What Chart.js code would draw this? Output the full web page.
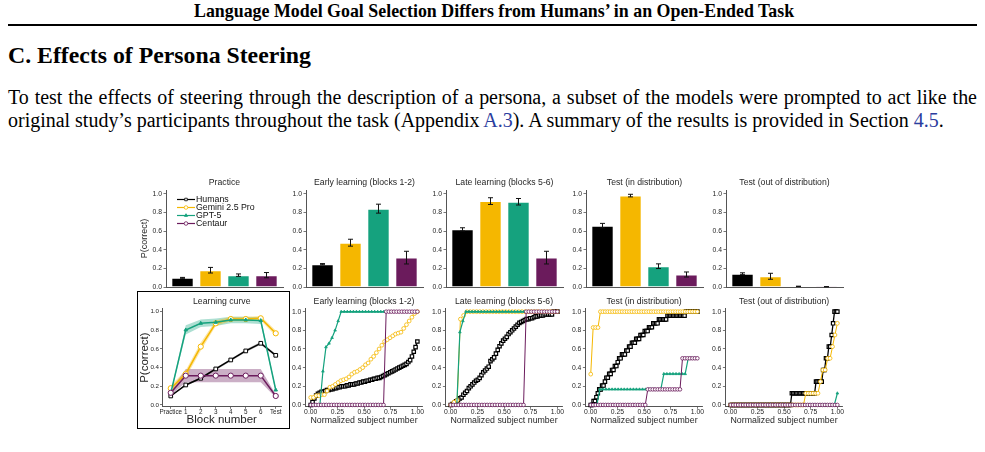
<!DOCTYPE html>
<html>
<head>
<meta charset="utf-8">
<script src="https://cdn.jsdelivr.net/npm/chart.js@4.4.1/dist/chart.umd.min.js"></script>
<style>
  html, body { margin: 0; padding: 0; background: #fff; }
  body { width: 985px; height: 452px; overflow: hidden; position: relative; font-family: "Liberation Serif", "Times New Roman", serif; color: #000; }
  .txt { position: absolute; white-space: nowrap; line-height: 1; }
  .lnk { color: #2b3d9e; }
  canvas { position: absolute; }
  #rule { position: absolute; left: 8px; top: 24px; width: 969px; height: 2px; background: #000; }
  #lcBox { position: absolute; left: 137px; top: 291px; width: 153px; height: 138px; border: 1.4px solid #000; box-sizing: border-box; }
</style>
</head>
<body>
<div class="txt" id="hdr" style="font-weight:bold">Language Model Goal Selection Differs from Humans’ in an Open-Ended Task</div>
<div id="rule"></div>
<div class="txt" id="sec" style="font-weight:bold">C. Effects of Persona Steering</div>
<div class="txt" id="par1">To test the effects of steering through the description of a persona, a subset of the models were prompted to act like the</div>
<div class="txt" id="par2">original study’s participants throughout the task (Appendix <span class="lnk">A.3</span>). A summary of the results is provided in Section <span class="lnk">4.5</span>.</div>
<div id="lcBox"></div>
<script>
// ---- data ----
const groups = ['Humans', 'Gemini 2.5 Pro', 'GPT-5', 'Centaur'];
const colors = ['#000000', '#F5B700', '#15A27E', '#6B1B5C'];
const barTitles = ['Practice', 'Early learning (blocks 1-2)', 'Late learning (blocks 5-6)', 'Test (in distribution)', 'Test (out of distribution)'];
const yTicks = [0, 0.2, 0.4, 0.6, 0.8, 1.0];
const xTicks = [0, 0.25, 0.5, 0.75, 1.0];

const practiceMean = [0.098, 0.180, 0.127, 0.127];
const practiceErr  = [0.005, 0.030, 0.013, 0.028];
const earlyMean = [0.245, 0.475, 0.840, 0.315];
const earlyErr  = [0.006, 0.037, 0.048, 0.068];
const lateMean = [0.618, 0.921, 0.914, 0.315];
const lateErr  = [0.017, 0.036, 0.035, 0.068];
const testInMean = [0.658, 0.980, 0.223, 0.134];
const testInErr  = [0.024, 0.014, 0.025, 0.027];
const testOutMean = [0.142, 0.115, 0.007, 0.003];
const testOutErr  = [0.010, 0.032, 0.002, 0.001];

const blockLabels = ['Practice', '1', '2', '3', '4', '5', '6', 'Test'];
const humansCurve = [0.096, 0.214, 0.286, 0.386, 0.482, 0.579, 0.661, 0.532];
const humansCurveErr = [0.008, 0.010, 0.012, 0.013, 0.014, 0.015, 0.016, 0.015];
const geminiCurve = [0.179, 0.332, 0.625, 0.875, 0.921, 0.921, 0.929, 0.768];
const geminiCurveErr = [0.030, 0.040, 0.045, 0.030, 0.025, 0.025, 0.025, 0.030];
const gptCurve = [0.125, 0.804, 0.875, 0.886, 0.911, 0.911, 0.904, 0.160];
const gptCurveErr = [0.015, 0.050, 0.040, 0.040, 0.035, 0.035, 0.035, 0.020];
const centaurCurve = [0.130, 0.314, 0.314, 0.314, 0.314, 0.314, 0.314, 0.096];
const centaurCurveErr = [0.030, 0.070, 0.070, 0.070, 0.070, 0.070, 0.070, 0.015];

// sorted per-subject accuracy (plain lists, or [value, count] runs)
const humansEarly = [0.00, 0.03, 0.07, 0.10, 0.12, 0.13, 0.14, 0.14, 0.15, 0.16, 0.16, 0.17, 0.17, 0.18, 0.18,
  0.19, 0.19, 0.20, 0.20, 0.20, 0.21, 0.21, 0.22, 0.22, 0.22, 0.23, 0.23, 0.24, 0.24, 0.25, 0.25, 0.26, 0.26,
  0.27, 0.27, 0.28, 0.28, 0.29, 0.29, 0.30, 0.31, 0.32, 0.33, 0.34, 0.35, 0.36, 0.37, 0.38, 0.39, 0.40, 0.41,
  0.42, 0.43, 0.44, 0.46, 0.48, 0.52, 0.57, 0.62, 0.68];
const geminiEarly = [0.08, 0.08, 0.10, 0.10, 0.11, 0.11, 0.15, 0.19, 0.20, 0.22, 0.24, 0.26, 0.27, 0.28, 0.30,
  0.33, 0.35, 0.36, 0.38, 0.40, 0.43, 0.45, 0.49, 0.52, 0.56, 0.60, 0.64, 0.68, 0.70, 0.72, 0.74, 0.76, 0.77,
  0.78, 0.82, 0.86, 0.90, 0.94, 0.98, 1.00];
const gptEarly = [[0, 4], [0.36, 1], [0.62, 1], [0.66, 1], [0.72, 1], [0.80, 1], [0.90, 1], [1, 26]];
const centaurEarly = [[0, 29], [1, 13]];

const humansLate = [0.00, 0.01, 0.02, 0.04, 0.05, 0.07, 0.08, 0.11, 0.13, 0.15, 0.18, 0.20, 0.22, 0.24, 0.26,
  0.27, 0.29, 0.32, 0.35, 0.37, 0.39, 0.41, 0.47, 0.49, 0.51, 0.55, 0.59, 0.63, 0.66, 0.69, 0.71, 0.73, 0.76,
  0.78, 0.80, 0.82, 0.84, 0.86, 0.88, 0.89, 0.90, 0.91, 0.92, 0.92, 0.93, 0.93, 0.94, 0.95, 0.95, 0.96, 0.96,
  0.96, 0.97, 0.97, 0.97, 0.97, 0.97, 1.00, 1.00, 1.00];
const geminiLate = [[0, 1], [0.03, 1], [0.05, 1], [0.92, 1], [0.96, 1], [1, 29]];
const gptLate = [[0, 3], [0.78, 1], [0.90, 1], [1, 31]];
const centaurLate = [[0, 29], [1, 13]];

const humansTestIn = [[0, 2], [0.042, 2], [0.083, 1], [0.125, 1], [0.167, 2], [0.208, 2], [0.25, 1], [0.292, 2],
  [0.333, 2], [0.375, 2], [0.417, 2], [0.458, 1], [0.5, 2], [0.542, 3], [0.583, 2], [0.625, 2], [0.667, 3],
  [0.708, 3], [0.75, 3], [0.792, 3], [0.833, 3], [0.875, 4], [0.917, 6], [0.958, 13], [1, 9]];
const geminiTestIn = [[0.33, 1], [0.83, 3], [1, 41]];
const gptTestIn = [[0, 3], [0.167, 21], [0.333, 8], [0.5, 4]];
const centaurTestIn = [[0, 23], [0.167, 14], [0.5, 7]];

const humansTestOut = [[0, 43], [0.125, 17], [0.25, 5], [0.375, 2], [0.5, 2], [0.625, 2], [0.75, 1], [0.875, 1], [1, 3]];
const geminiTestOut = [[0, 31], [0.125, 6], [0.25, 1], [0.375, 2], [0.5, 2], [0.625, 1], [0.75, 1], [0.875, 1]];
const gptTestOut = [[0, 35], [0.125, 1]];
const centaurTestOut = [[0, 44]];

// ---- page text ----
function fitWidth(el, w) {
  el.style.fontSize = '20px';
  const r = el.getBoundingClientRect().width;
  const fs = 20 * w / r;
  el.style.fontSize = fs + 'px';
  return fs;
}
function place(el, left, cy, fs) {
  el.style.left = left + 'px';
  el.style.top = (cy - 0.55 * fs) + 'px';
}
const hdr = document.getElementById('hdr');
place(hdr, 194, 12.5, fitWidth(hdr, 601));
const sec = document.getElementById('sec');
place(sec, 8, 57, fitWidth(sec, 303));
const par2 = document.getElementById('par2');
const pfs = fitWidth(par2, 936);
place(par2, 8, 122, pfs);
const par1 = document.getElementById('par1');
par1.style.fontSize = pfs + 'px';
const nSp = par1.textContent.split(' ').length - 1;
par1.style.wordSpacing = ((969 - par1.getBoundingClientRect().width) / nSp) + 'px';
place(par1, 8, 99, pfs);

// ---- charts ----
const FONT = "'Liberation Sans', Arial, sans-serif";
const SPINE = '#555555';
const TXT = '#262626';
const pointStyles = ['rect', 'circle', 'triangle', 'circle'];
const pointFills = ['#ffffff', '#ffffff', '#15A27E', '#ffffff'];
const bandColors = ['rgba(0,0,0,0.25)', 'rgba(245,183,0,0.35)', 'rgba(21,162,126,0.35)', 'rgba(107,27,92,0.35)'];
Chart.defaults.font.family = FONT;
Chart.defaults.color = TXT;

function expand(s) {
  if (!Array.isArray(s[0])) return s;
  const out = [];
  s.forEach(([v, n]) => { for (let i = 0; i < n; i++) out.push(v); });
  return out;
}

function addCanvas(left, top, w, h) {
  const c = document.createElement('canvas');
  c.width = w; c.height = h;
  c.style.left = left + 'px'; c.style.top = top + 'px';
  c.style.width = w + 'px'; c.style.height = h + 'px';
  document.body.appendChild(c);
  return c;
}

function tickFont(size) { return { family: FONT, size: size || 6.5, lineHeight: '6px' }; }

function titleOpt(text, pt, pb) {
  return { display: true, text, fullSize: false, color: TXT,
    font: { family: FONT, size: 8.7, weight: 'normal', lineHeight: '10px' },
    padding: { top: pt, bottom: pb } };
}

function yAxis(padL, min, max, fsz) {
  return {
    type: 'linear', min, max,
    afterBuildTicks: sc => { sc.ticks = yTicks.map(v => ({ value: v })); },
    afterFit: sc => { sc.width = padL; sc.paddingTop = 0; sc.paddingBottom = 0; },
    ticks: { font: tickFont(fsz), color: TXT, padding: 1.5, callback: v => v.toFixed(1) },
    grid: { display: true, drawOnChartArea: false, drawTicks: true, tickLength: 2.5, color: SPINE, lineWidth: 0.8 },
    border: { display: true, color: SPINE, width: 1 }
  };
}

function baseOpts(padR) {
  return { responsive: false, animation: false, events: [],
    layout: { padding: { left: 0, top: 0, right: padR, bottom: 0 } } };
}

function drawMarker(ctx, style, x, y, r, stroke, fill) {
  ctx.beginPath();
  if (style === 'rect') {
    const s = r / Math.SQRT2;
    ctx.rect(x - s, y - s, 2 * s, 2 * s);
  } else if (style === 'triangle') {
    ctx.moveTo(x, y - r); ctx.lineTo(x + r * 0.87, y + r * 0.5); ctx.lineTo(x - r * 0.87, y + r * 0.5); ctx.closePath();
  } else {
    ctx.arc(x, y, r, 0, Math.PI * 2);
  }
  ctx.fillStyle = fill; ctx.fill();
  ctx.lineWidth = 0.8; ctx.strokeStyle = stroke; ctx.stroke();
}

function errorBars(mean, err) {
  return { id: 'errorBars', afterDatasetsDraw(chart) {
    const { ctx, scales: { x, y } } = chart;
    ctx.save();
    ctx.strokeStyle = '#111'; ctx.lineWidth = 1;
    mean.forEach((m, i) => {
      const px = x.getPixelForValue(i);
      const lo = y.getPixelForValue(m - err[i]), hi = y.getPixelForValue(m + err[i]);
      ctx.beginPath();
      ctx.moveTo(px, lo); ctx.lineTo(px, hi);
      ctx.moveTo(px - 2.5, lo); ctx.lineTo(px + 2.5, lo);
      ctx.moveTo(px - 2.5, hi); ctx.lineTo(px + 2.5, hi);
      ctx.stroke();
    });
    ctx.restore();
  } };
}

function practiceLegend() {
  return { id: 'practiceLegend', afterDraw(chart) {
    const { ctx, chartArea: a } = chart;
    ctx.save();
    groups.forEach((g, i) => {
      const y = a.top + 9.5 + 8 * i;
      ctx.strokeStyle = colors[i]; ctx.lineWidth = 1.2;
      ctx.beginPath(); ctx.moveTo(a.left + 11, y); ctx.lineTo(a.left + 29, y); ctx.stroke();
      drawMarker(ctx, pointStyles[i], a.left + 20, y, 1.8, colors[i], pointFills[i]);
      ctx.fillStyle = '#111'; ctx.font = '8.8px ' + FONT; ctx.textBaseline = 'middle';
      ctx.fillText(g, a.left + 30, y);
    });
    ctx.restore();
  } };
}

function barPanel(k, mean, err) {
  const L = 166 + 140 * k, T = 190, W = 117, H = 97;
  const padL = k === 0 ? 30 : 28, padT = 18, padR = 6, padB = 4;
  const cv = addCanvas(L - padL, T - padT, W + padL + padR, H + padT + padB);
  const yS = yAxis(padL, 0, 1.04, 6.8);
  if (k === 0) {
    yS.title = { display: true, text: 'P(correct)', color: TXT,
      font: { family: FONT, size: 9, lineHeight: '10px' }, padding: { top: 4, bottom: 0 } };
  }
  const plugins = [errorBars(mean, err)];
  if (k === 0) plugins.push(practiceLegend());
  new Chart(cv, {
    type: 'bar',
    data: { datasets: [{
      data: mean.map((m, i) => ({ x: i, y: m })),
      backgroundColor: colors, borderColor: 'rgba(255,255,255,0.45)', borderWidth: 1,
      categoryPercentage: 1, barPercentage: 0.8
    }] },
    options: Object.assign(baseOpts(padR), {
      plugins: { legend: { display: false }, tooltip: { enabled: false }, title: titleOpt(barTitles[k], 6, 2) },
      scales: {
        x: { type: 'linear', min: -0.59, max: 3.59, offset: false,
          afterBuildTicks: sc => { sc.ticks = [0, 1, 2, 3].map(v => ({ value: v })); },
          afterFit: sc => { sc.height = padB; sc.paddingLeft = 0; sc.paddingRight = 0; },
          ticks: { display: false },
          grid: { display: false, drawTicks: false, offset: false },
          border: { display: true, color: SPINE, width: 1 } },
        y: yS
      }
    }),
    plugins
  });
}

function curvePanel() {
  const L = 162.5, T = 308.4, W = 118.5, H = 98.4;
  const cl = 139, ct = 292, cw = 148, ch = 136;
  const padL = L - cl, padT = T - ct, padR = cw - padL - W, padB = ch - padT - H;
  const cv = addCanvas(cl, ct, cw, ch);
  const means = [humansCurve, geminiCurve, gptCurve, centaurCurve];
  const errs = [humansCurveErr, geminiCurveErr, gptCurveErr, centaurCurveErr];
  const datasets = [];
  means.forEach((m, i) => {
    datasets.push({ data: m.map((v, j) => ({ x: j, y: v + errs[i][j] })), borderWidth: 0, pointRadius: 0, fill: false, order: 10 });
    datasets.push({ data: m.map((v, j) => ({ x: j, y: v - errs[i][j] })), borderWidth: 0, pointRadius: 0,
      fill: '-1', backgroundColor: bandColors[i], order: 10 });
  });
  means.forEach((m, i) => {
    datasets.push({ label: groups[i], data: m.map((v, j) => ({ x: j, y: v })), borderColor: colors[i], borderWidth: 1.5,
      pointStyle: pointStyles[i], pointRadius: i === 2 ? 2 : 2.6, pointBackgroundColor: pointFills[i],
      pointBorderColor: colors[i], pointBorderWidth: 1, fill: false, tension: 0, order: 4 - i, clip: 6 });
  });
  const yS = yAxis(padL, -0.02, 1.035, 6.2);
  yS.ticks.padding = 1;
  yS.title = { display: true, text: 'P(correct)', color: TXT,
    font: { family: FONT, size: 11.5, lineHeight: '12px' }, padding: { top: 0, bottom: 0 } };
  new Chart(cv, {
    type: 'line',
    data: { datasets },
    options: Object.assign(baseOpts(padR), {
      plugins: { legend: { display: false }, tooltip: { enabled: false }, title: titleOpt('Learning curve', 4.7, padT - 14.7) },
      scales: {
        x: { type: 'linear', min: -0.55, max: 7.35,
          afterBuildTicks: sc => { sc.ticks = blockLabels.map((b, j) => ({ value: j })); },
          afterFit: sc => { sc.height = padB; sc.paddingLeft = 0; sc.paddingRight = 0; },
          ticks: { font: tickFont(6.3), color: TXT, padding: 0, autoSkip: false, maxRotation: 0, minRotation: 0,
            callback: v => blockLabels[v] },
          grid: { display: true, drawOnChartArea: false, drawTicks: true, tickLength: 2, color: SPINE, lineWidth: 0.8 },
          border: { display: true, color: SPINE, width: 1 },
          title: { display: true, text: 'Block number', color: TXT,
            font: { family: FONT, size: 11.5, lineHeight: '12px' }, padding: { top: 0, bottom: 2.5 } } },
        y: yS
      }
    })
  });
}

function stepPanel(k, series) {
  const L = 305.4 + 140 * (k - 1), T = 308.4, W = 117.3, H = 98.4;
  const cl = Math.floor(L - 26), ct = 292, cw = 150, ch = 136;
  const padL = L - cl, padT = T - ct, padR = cw - padL - W, padB = ch - padT - H;
  const cv = addCanvas(cl, ct, cw, ch);
  const widths = [1.3, 1, 1.2, 1];
  const radii = [2.4, 1.9, 1.5, 1.8];
  const bw = [1.2, 0.8, 0.8, 0.8];
  const datasets = series.map((s, i) => {
    const vals = expand(s);
    return { label: groups[i], data: vals.map((v, j) => ({ x: j / (vals.length - 1), y: v })),
      borderColor: colors[i], borderWidth: widths[i], pointStyle: pointStyles[i], pointRadius: radii[i],
      pointBackgroundColor: pointFills[i], pointBorderColor: colors[i], pointBorderWidth: bw[i],
      fill: false, tension: 0, order: 4 - i, clip: 6 };
  });
  new Chart(cv, {
    type: 'line',
    data: { datasets },
    options: Object.assign(baseOpts(padR), {
      plugins: { legend: { display: false }, tooltip: { enabled: false }, title: titleOpt(barTitles[k], 4.7, padT - 14.7) },
      scales: {
        x: { type: 'linear', min: -0.05, max: 1.05,
          afterBuildTicks: sc => { sc.ticks = xTicks.map(v => ({ value: v })); },
          afterFit: sc => { sc.height = padB; sc.paddingLeft = 0; sc.paddingRight = 0; },
          ticks: { font: tickFont(6.8), color: TXT, padding: 0, autoSkip: false, maxRotation: 0, minRotation: 0,
            callback: v => v.toFixed(2) },
          grid: { display: true, drawOnChartArea: false, drawTicks: true, tickLength: 2, color: SPINE, lineWidth: 0.8 },
          border: { display: true, color: SPINE, width: 1 },
          title: { display: true, text: 'Normalized subject number', color: TXT,
            font: { family: FONT, size: 8.8, lineHeight: '10px' }, padding: { top: 0, bottom: 2.5 } } },
        y: yAxis(padL, -0.02, 1.035, 6.8)
      }
    })
  });
}

barPanel(0, practiceMean, practiceErr);
barPanel(1, earlyMean, earlyErr);
barPanel(2, lateMean, lateErr);
barPanel(3, testInMean, testInErr);
barPanel(4, testOutMean, testOutErr);
curvePanel();
stepPanel(1, [humansEarly, geminiEarly, gptEarly, centaurEarly]);
stepPanel(2, [humansLate, geminiLate, gptLate, centaurLate]);
stepPanel(3, [humansTestIn, geminiTestIn, gptTestIn, centaurTestIn]);
stepPanel(4, [humansTestOut, geminiTestOut, gptTestOut, centaurTestOut]);
</script>
</body>
</html>
